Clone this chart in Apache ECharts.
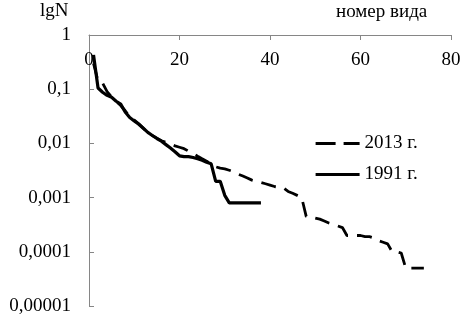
<!DOCTYPE html>
<html><head><meta charset="utf-8">
<script src="https://cdn.jsdelivr.net/npm/echarts@6/dist/echarts.min.js"></script>
<style>html,body{margin:0;padding:0;background:#fff}#c{width:471px;height:324px}</style>
</head><body><div id="c"></div>
<script>
var seriesNames = ['2013 г.', '1991 г.'];
var xTicks = [0, 20, 40, 60, 80];
var yTickLabels = ['1', '0,1', '0,01', '0,001', '0,0001', '0,00001'];

var ranks1991 = [1,2,3,4,5,6,7,8,9,10,11,12,13,14,15,16,17,18,19,20,21,22,23,24,25,26,27,28,29,30,31,32,33,34,35,36,37,38];
var values1991 = [0.43,0.105,0.088,0.077,0.071,0.06,0.053,0.038,0.030,0.026,0.0225,0.019,0.016,0.014,0.0123,0.011,0.0095,0.0082,0.007,0.0059,0.0057,0.0057,0.0055,0.0052,0.0049,0.0045,0.0042,0.002,0.002,0.0011,0.0008,0.0008,0.0008,0.0008,0.0008,0.0008,0.0008,0.0008];

var ranks2013 = [1,2,3,4,5,6,7,8,9,10,11,12,13,14,15,16,17,18,19,20,21,22,23,24,25,26,27,28,29,30,31,32,33,34,35,36,37,38,39,40,41,42,43,44,45,46,47,48,49,50,51,52,53,54,55,56,57,58,59,60,61,62,63,64,65,66,67,68,69,70,71,72,73,74];
var values2013 = [0.3,0.14,0.13,0.09,0.072,0.06,0.05,0.04,0.031,0.027,0.023,0.019,0.016,0.014,0.0125,0.0112,0.0105,0.0098,0.009,0.0085,0.008,0.0072,0.0065,0.0058,0.0052,0.0047,0.0041,0.0037,0.0035,0.0034,0.0032,0.003,0.0027,0.0025,0.0023,0.0021,0.002,0.0019,0.0018,0.0017,0.0016,0.00155,0.0015,0.0013,0.0012,0.0011,0.001,0.00045,0.00043,0.00042,0.0004,0.00037,0.00034,0.00032,0.0003,0.00028,0.0002,0.0002,0.0002,0.0002,0.00019,0.00019,0.00018,0.00016,0.00015,0.00014,0.0001,0.0001,0.000095,0.00005,0.00005,0.00005,0.00005,0.00005];

function pairs(xs, ys){ return xs.map(function(x,i){ return [x, ys[i]]; }); }

var FONT = '"Liberation Serif", "Times New Roman", serif';
var chart = echarts.init(document.getElementById('c'), null, {renderer:'canvas'});
chart.setOption({
  animation: false,
  backgroundColor: '#fff',
  grid: {left: 89, top: 35, right: 20, bottom: 18, containLabel: false},
  graphic: [
    {type:'text', left: 40, top: 2, style:{text:'lgN', font:'19px ' + FONT, fill:'#000'}},
    {type:'text', left: 336, top: 3, style:{text:'номер вида', font:'19px ' + FONT, fill:'#000'}}
  ],
  legend: {
    orient: 'vertical', left: 309, top: 129, itemWidth: 44, itemHeight: 14, itemGap: 12,
    itemStyle: {opacity: 0},
    lineStyle: {width: 3.2},
    textStyle: {fontFamily: FONT, fontSize: 19, color: '#000'},
    data: [{name: seriesNames[0], lineStyle: {type: [20, 8]}}, {name: seriesNames[1]}]
  },
  xAxis: {
    type: 'value', position: 'top', min: xTicks[0], max: xTicks[xTicks.length-1], interval: 20,
    axisLine: {lineStyle: {color: '#868686', width: 1}},
    axisTick: {inside: true, length: 5, lineStyle: {color: '#868686'}},
    axisLabel: {inside: true, margin: 16, fontFamily: FONT, fontSize: 19, color: '#000'},
    splitLine: {show: false}
  },
  yAxis: {
    type: 'log', logBase: 10, min: 0.00001, max: 1,
    axisLine: {show: true, lineStyle: {color: '#868686', width: 1}},
    axisTick: {show: true, inside: true, length: 5, lineStyle: {color: '#868686'}},
    axisLabel: {margin: 18, fontFamily: FONT, fontSize: 19, color: '#000',
      formatter: function(v){ var e = Math.round(-Math.log10(v)); return yTickLabels[e] || ''; }},
    splitLine: {show: false},
    minorTick: {show: false}
  },
  series: [
    {name: seriesNames[0], type: 'line', data: pairs(ranks2013, values2013), symbol: 'none',
     lineStyle: {color: '#000', width: 2.8, type: [15, 9]}, itemStyle: {color: '#000'}, z: 2},
    {name: seriesNames[1], type: 'line', data: pairs(ranks1991, values1991), symbol: 'none',
     lineStyle: {color: '#000', width: 3.2, type: 'solid'}, itemStyle: {color: '#000'}, z: 3}
  ]
});
</script></body></html>
